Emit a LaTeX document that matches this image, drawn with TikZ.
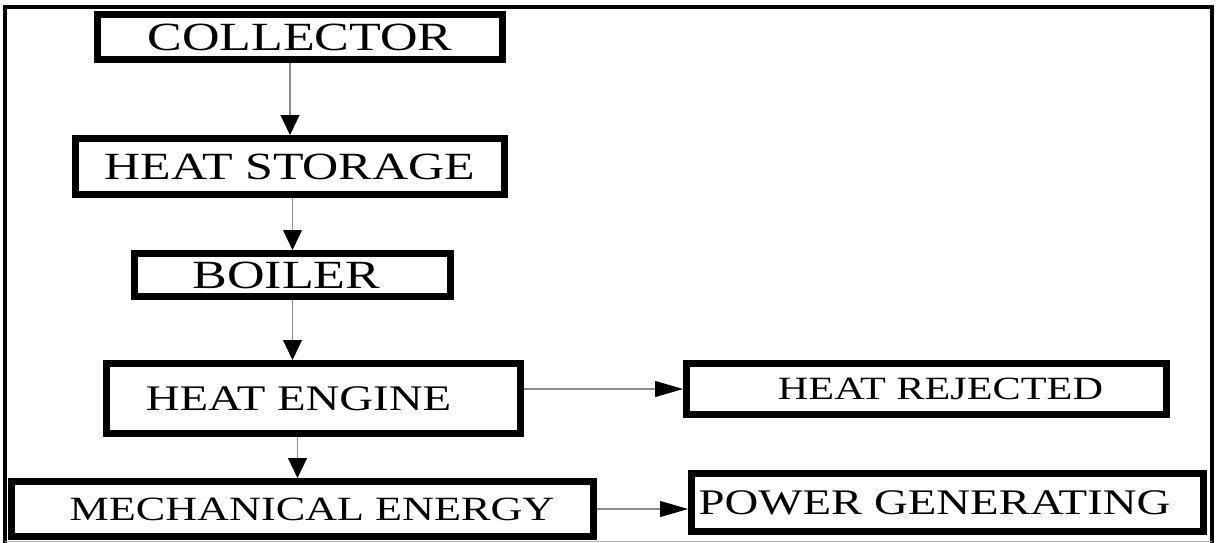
\documentclass[tikz,border=0pt]{standalone}
\usepackage{fontspec}
\newfontfamily\boxfont{Liberation Serif}[FakeStretch=1.3]
\usetikzlibrary{positioning,arrows.meta}

\begin{document}
\begin{tikzpicture}[
    x=1pt, y=-1pt,
    box/.style={draw, line width=7pt, inner sep=0pt},
    arr/.style={-{Triangle[length=20pt, width=19pt, color=black]}, draw=black!45, line width=1.2pt},
    sidearr/.style={-{Triangle[length=28pt, width=16pt, color=black]}, draw=black!45, line width=1.2pt}
]
\useasboundingbox (0,0) rectangle (1217,542);
% outer frame
\draw[line width=4pt] (5,548) -- (5,7) -- (1212,7) -- (1212,548);
\draw[black!30, line width=1pt] (5,541) -- (1212,541);

\node[box, minimum width=405pt, minimum height=45pt, font=\boxfont\fontsize{40pt}{44pt}\selectfont] (collector) at (300,37) {COLLECTOR};
\node[box, minimum width=429pt, minimum height=56pt, font=\boxfont\fontsize{38.5pt}{42pt}\selectfont] (storage) at (290,166.5) {HEAT STORAGE};
\node[box, minimum width=316pt, minimum height=43pt, font=\boxfont\fontsize{40pt}{44pt}\selectfont] (boiler) at (292.5,275) {BOILER\hspace*{12pt}};
\node[box, minimum width=414pt, minimum height=70pt, font=\boxfont\fontsize{36pt}{40pt}\selectfont] (engine) at (313.5,398.5) {HEAT ENGINE\hspace*{30pt}};
\node[box, minimum width=480pt, minimum height=51pt, font=\boxfont\fontsize{32.5pt}{36pt}\selectfont] (rejected) at (926.5,389) {\hspace*{28pt}HEAT REJECTED};
\node[box, minimum width=582pt, minimum height=55pt, font=\boxfont\fontsize{34pt}{38pt}\selectfont] (mech) at (302.5,509) {\hspace*{19pt}MECHANICAL ENERGY};
\node[box, minimum width=512pt, minimum height=58pt, font=\boxfont\fontsize{36pt}{40pt}\selectfont] (power) at (947.5,502.5) {POWER GENERATING\hspace*{26pt}};

\draw[arr] (collector.south -| storage.north) -- (storage.north);
\draw[arr] (storage.south -| boiler.north) -- (boiler.north);
\draw[arr] (boiler.south) -- (boiler.south |- engine.north);
\draw[arr] ([xshift=-16pt]engine.south) -- ([xshift=-16pt]engine.south |- mech.north);
\draw[sidearr] (rejected.west -| engine.east) -- (rejected.west);
\draw[sidearr] (mech.east) -- (mech.east -| power.west);
\end{tikzpicture}
\end{document}
